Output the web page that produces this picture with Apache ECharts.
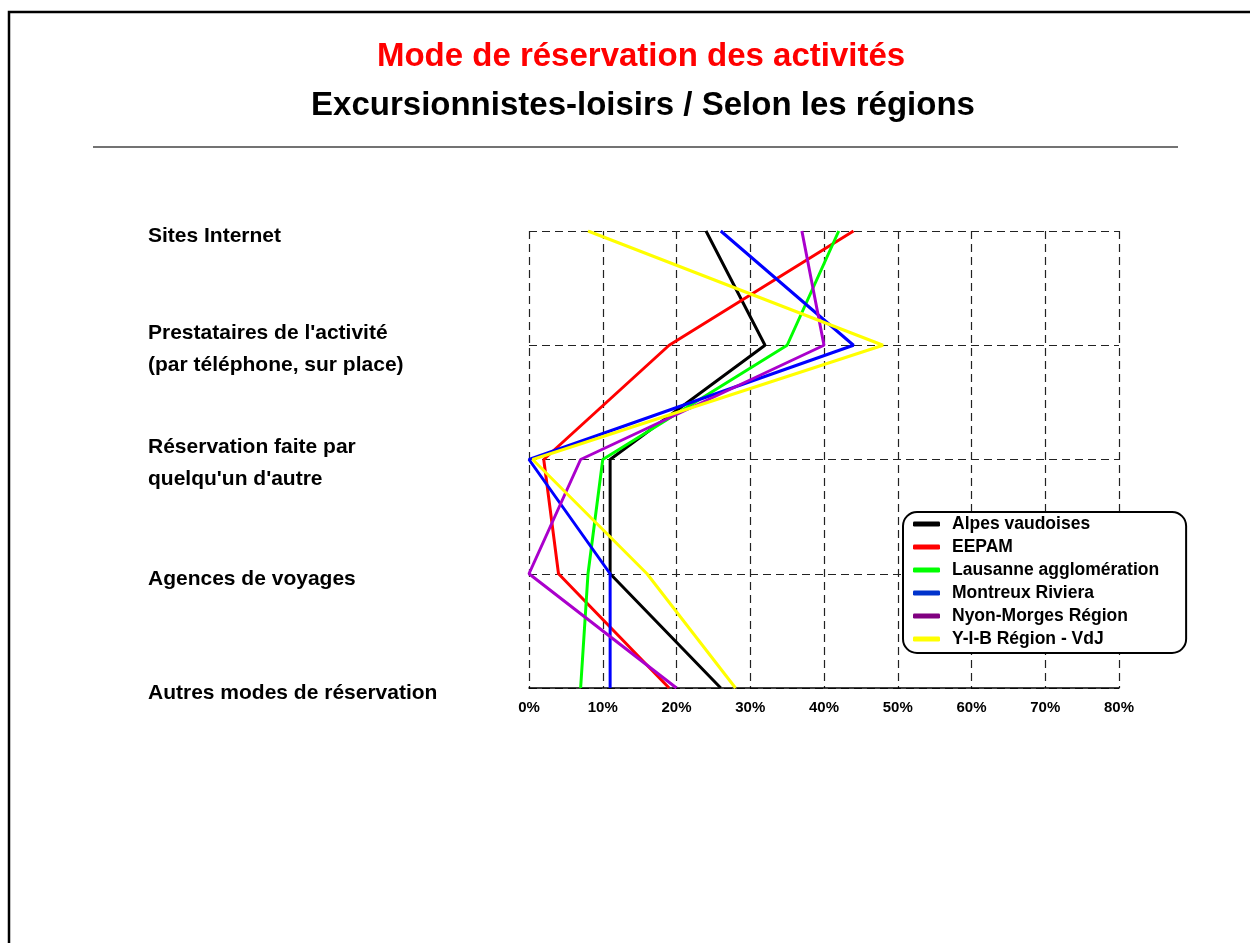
<!DOCTYPE html>
<html>
<head>
<meta charset="utf-8">
<script src="https://cdn.jsdelivr.net/npm/echarts@6/dist/echarts.min.js"></script>
<style>
  html, body { margin: 0; padding: 0; background: #fff; }
  #chart { width: 1250px; height: 943px; }
</style>
</head>
<body>
<div id="chart"></div>
<script>
const categories = [
  "Sites Internet",
  "Prestataires de l'activité\n(par téléphone, sur place)",
  "Réservation faite par\nquelqu'un d'autre",
  "Agences de voyages",
  "Autres modes de réservation"
];
const seriesNames = ["Alpes vaudoises", "EEPAM", "Lausanne agglomération", "Montreux Riviera", "Nyon-Morges Région", "Y-I-B Région - VdJ"];
const alpesVaudoises = [24, 32, 11, 11, 26];
const eepam = [44, 19, 2, 4, 19];
const lausanne = [42, 35, 10, 8, 7];
const montreux = [26, 44, 0, 11, 11];
const nyonMorges = [37, 40, 7, 0, 20];
const yib = [8, 48, 0.5, 16, 28];
const xTicks = [0, 10, 20, 30, 40, 50, 60, 70, 80];

const lineColors = ["#000000", "#ff0000", "#00ff00", "#0000ff", "#aa00cc", "#ffff00"];
const legendColors = ["#000000", "#ff0000", "#00ff00", "#0033cc", "#800080", "#ffff00"];
const values = [alpesVaudoises, eepam, lausanne, montreux, nyonMorges, yib];

const FONT = '"Liberation Sans", Arial, Helvetica, sans-serif';
const labelBase = { fontSize: 21, fontWeight: 'bold', color: '#000', fontFamily: FONT };

const chart = echarts.init(document.getElementById('chart'), null, { renderer: 'canvas' });

chart.setOption({
  backgroundColor: '#ffffff',
  animation: false,
  title: [
    {
      text: 'Mode de réservation des activités',
      left: 636, top: 35, textAlign: 'center',
      textStyle: { color: '#ff0000', fontSize: 33, fontWeight: 'bold', fontFamily: FONT }
    },
    {
      text: 'Excursionnistes-loisirs / Selon les régions',
      left: 638, top: 84, textAlign: 'center',
      textStyle: { color: '#000000', fontSize: 33, fontWeight: 'bold', fontFamily: FONT }
    }
  ],
  graphic: [
    { type: 'rect', shape: { x: 9, y: 12, width: 1400, height: 1100 }, style: { fill: 'none', stroke: '#000', lineWidth: 2.5 }, silent: true },
    { type: 'line', shape: { x1: 93, y1: 147, x2: 1178, y2: 147 }, style: { stroke: '#444', lineWidth: 1.5 }, silent: true }
  ],
  legend: {
    orient: 'vertical',
    left: 903, top: 512,
    padding: [3, 27, 5, 10],
    backgroundColor: '#ffffff',
    borderColor: '#000000',
    borderWidth: 2,
    borderRadius: 14,
    itemGap: 5,
    itemWidth: 27,
    itemHeight: 5,
    icon: 'roundRect',
    textStyle: { fontSize: 17.5, fontWeight: 'bold', color: '#000', fontFamily: FONT, lineHeight: 18, padding: [0, 0, 0, 7] },
    data: seriesNames.map((n, i) => ({ name: n, itemStyle: { color: legendColors[i] } }))
  },
  grid: { left: 529, right: 131, top: 231, bottom: 255, containLabel: false },
  xAxis: {
    type: 'value',
    min: xTicks[0], max: xTicks[xTicks.length - 1], interval: 10,
    axisLine: { show: true, lineStyle: { color: '#000', width: 1.5 } },
    axisTick: { show: false },
    axisLabel: { formatter: '{value}%', fontSize: 15, fontWeight: 'bold', color: '#000', fontFamily: FONT, margin: 12 },
    splitLine: { show: true, lineStyle: { type: [8, 5], color: '#222', width: 1.2 } }
  },
  yAxis: {
    type: 'category',
    inverse: true,
    boundaryGap: false,
    data: categories,
    axisLine: { show: false },
    axisTick: { show: false },
    axisLabel: {
      align: 'left', margin: 381,
      ...labelBase,
      formatter: function (v) {
        const lines = v.split('\n');
        if (lines.length === 1) return '{f|' + lines[0] + '}';
        return lines.map((line, k) => (k === 0 ? '{g|' : '{n|') + line + '}').join('\n');
      },
      rich: {
        f: Object.assign({}, labelBase, { lineHeight: 32, padding: [11, 0, 0, 0] }),
        g: Object.assign({}, labelBase, { height: 32, padding: [8, 0, 0, 0] }),
        n: Object.assign({}, labelBase, { height: 32 })
      }
    },
    splitLine: { show: true, lineStyle: { type: [8, 5], color: '#222', width: 1.2 } }
  },
  series: seriesNames.map((n, i) => ({
    name: n,
    type: 'line',
    data: values[i],
    symbol: 'none',
    lineStyle: { color: lineColors[i], width: 3 },
    itemStyle: { color: lineColors[i] }
  }))
});
</script>
</body>
</html>
